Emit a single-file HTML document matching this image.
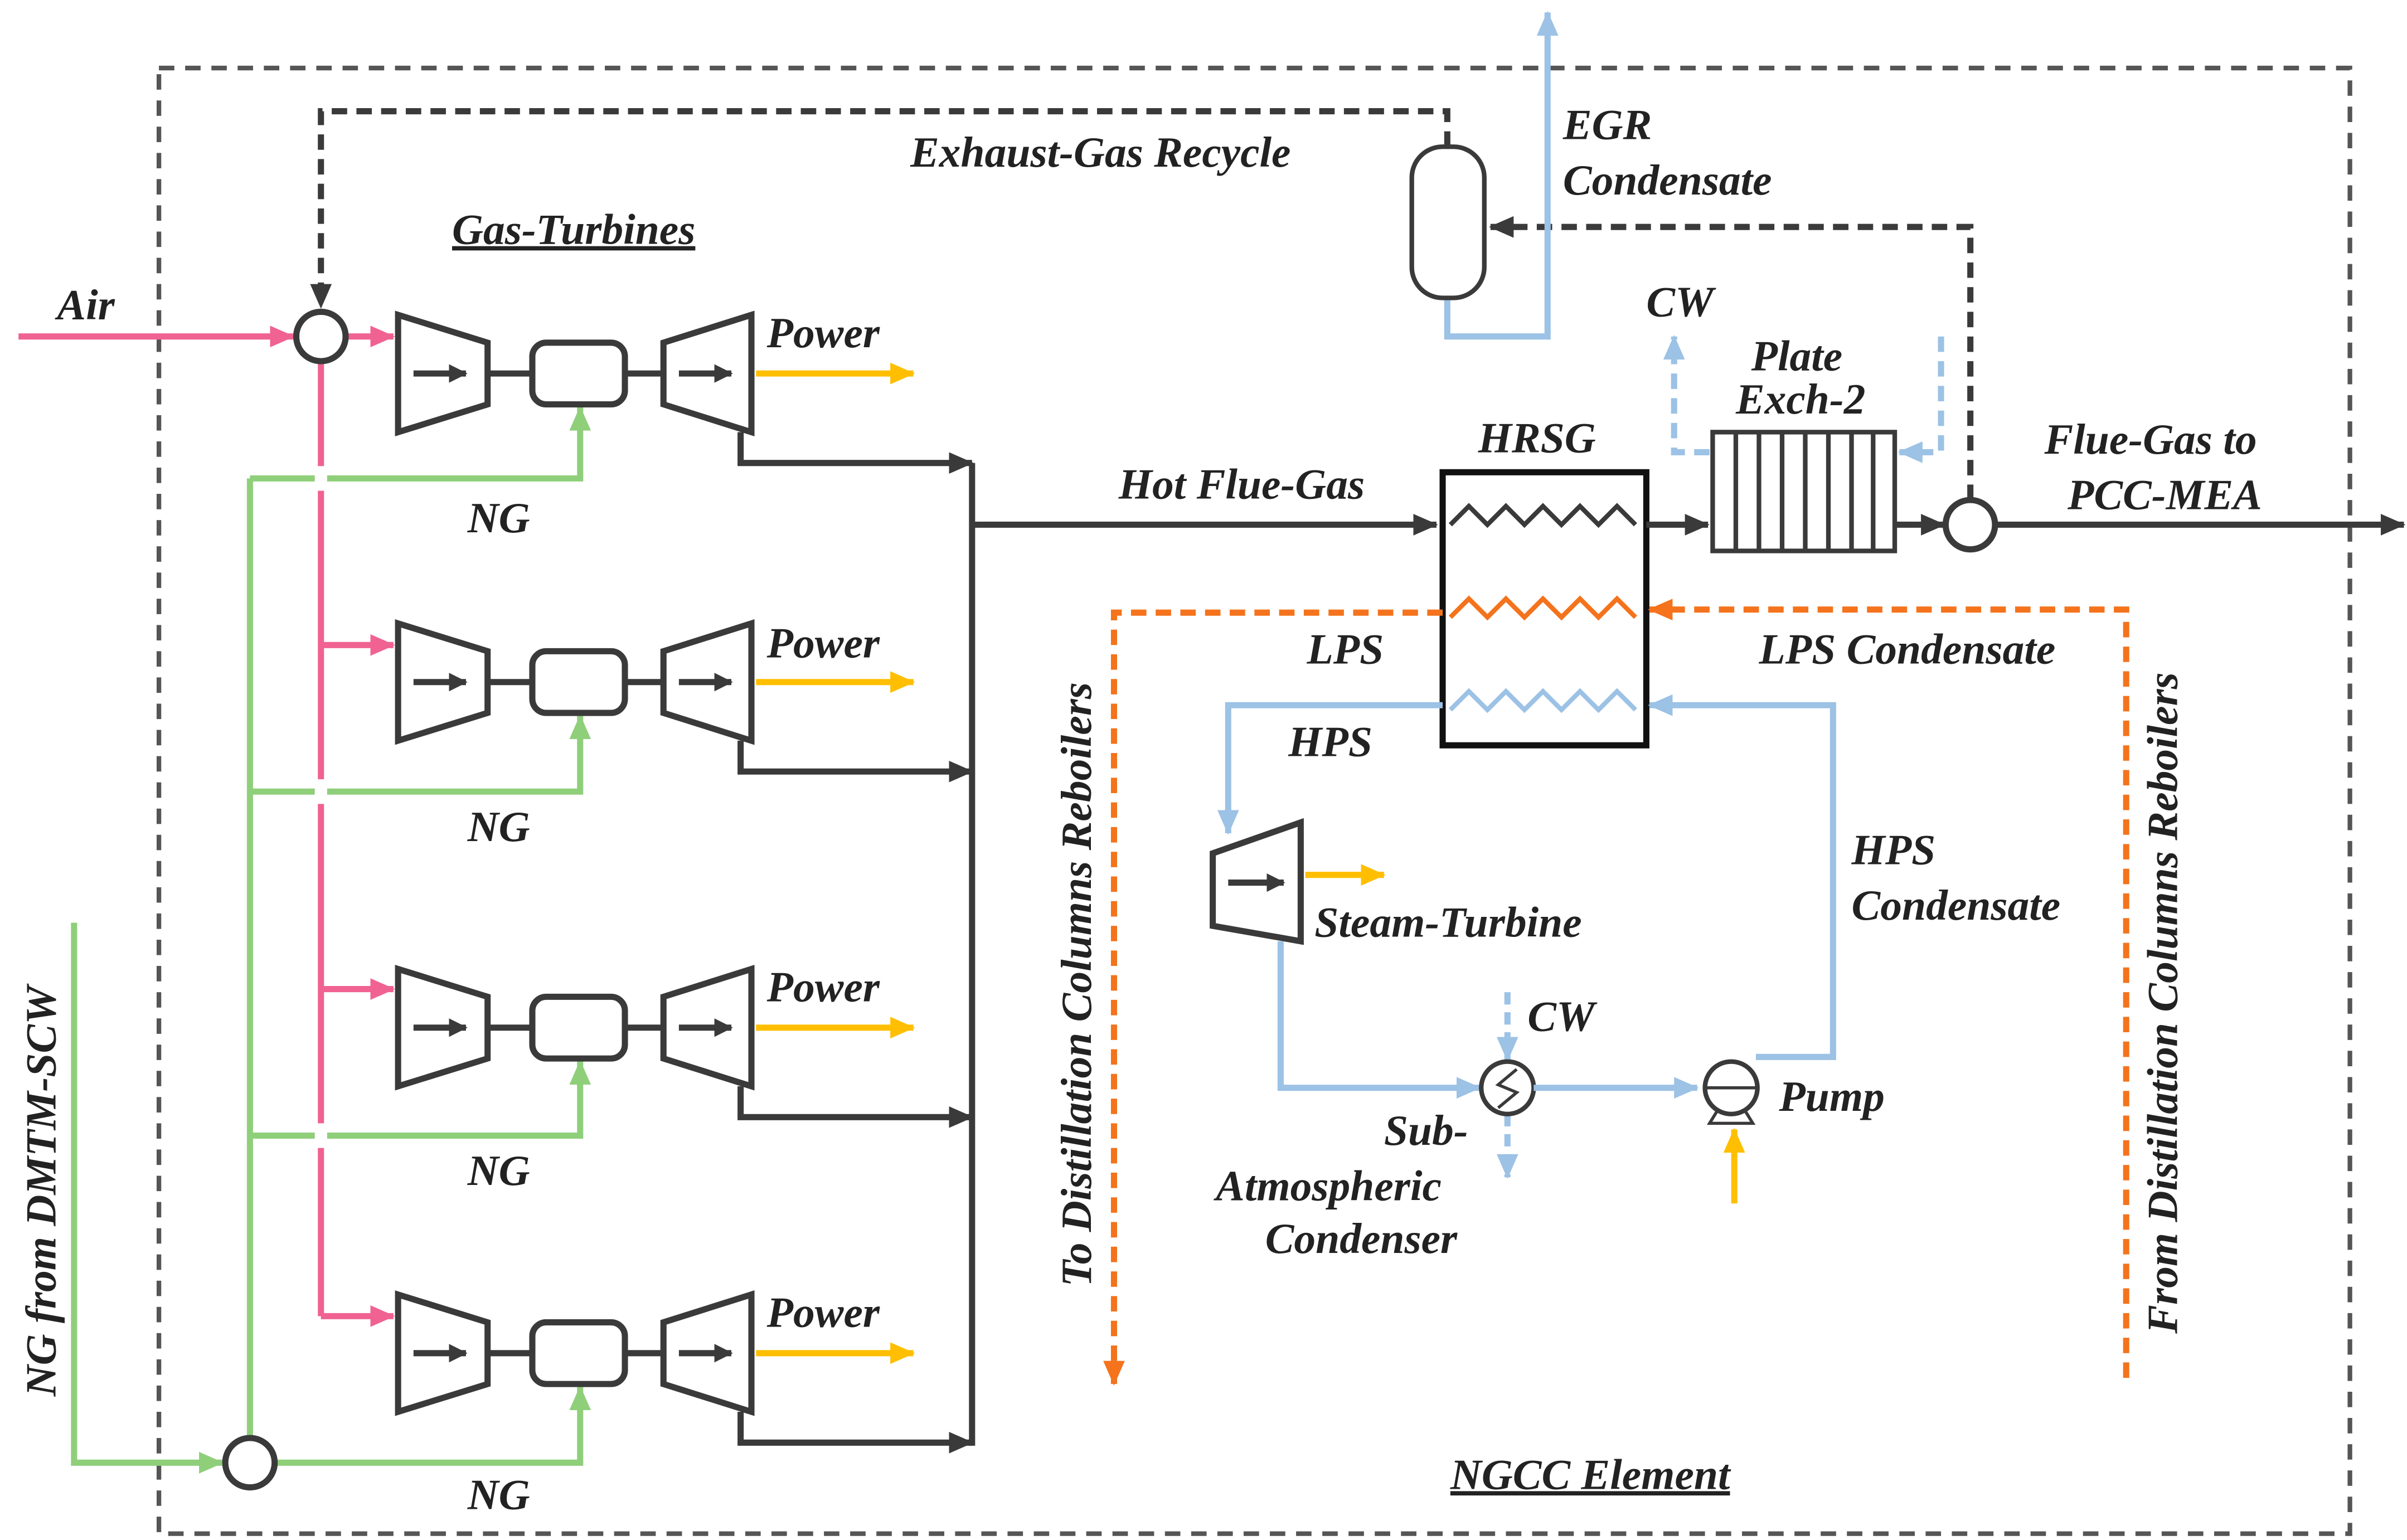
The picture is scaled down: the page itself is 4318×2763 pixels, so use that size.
<!DOCTYPE html>
<html><head><meta charset="utf-8"><style>
html,body{margin:0;padding:0;background:#fff;}
svg{display:block}
text{font-family:"Liberation Serif",serif;font-style:italic;font-weight:bold;font-size:28px;fill:#222;}
</style></head><body>
<svg width="4318" height="2763" viewBox="0 0 1560 998" xmlns="http://www.w3.org/2000/svg">
<defs>
<marker id="ad" markerWidth="12" markerHeight="12" refX="11" refY="6" orient="auto" markerUnits="userSpaceOnUse"><path d="M0,0 L12,6 L0,12z" fill="#3a3a3a"/></marker>
<marker id="ap" markerWidth="16" markerHeight="14" refX="15" refY="7" orient="auto" markerUnits="userSpaceOnUse"><path d="M0,0 L16,7 L0,14z" fill="#f06292"/></marker>
<marker id="ag" markerWidth="16" markerHeight="14" refX="15" refY="7" orient="auto" markerUnits="userSpaceOnUse"><path d="M0,0 L16,7 L0,14z" fill="#8fcf7a"/></marker>
<marker id="ay" markerWidth="16" markerHeight="14" refX="15" refY="7" orient="auto" markerUnits="userSpaceOnUse"><path d="M0,0 L16,7 L0,14z" fill="#ffbf00"/></marker>
<marker id="ab" markerWidth="16" markerHeight="14" refX="15" refY="7" orient="auto" markerUnits="userSpaceOnUse"><path d="M0,0 L16,7 L0,14z" fill="#9cc2e5"/></marker>
<marker id="ao" markerWidth="16" markerHeight="14" refX="15" refY="7" orient="auto" markerUnits="userSpaceOnUse"><path d="M0,0 L16,7 L0,14z" fill="#f4731c"/></marker>
<marker id="ak" markerWidth="16" markerHeight="14" refX="15" refY="7" orient="auto" markerUnits="userSpaceOnUse"><path d="M0,0 L16,7 L0,14z" fill="#3a3a3a"/></marker>
<g id="gt">
<path d="M258,-38 L316,-20 L316,20 L258,38 Z" fill="#fff" stroke="#3a3a3a" stroke-width="4"/>
<line x1="316" y1="0" x2="345" y2="0" stroke="#3a3a3a" stroke-width="4"/>
<rect x="345" y="-20" width="60" height="40" rx="9" fill="#fff" stroke="#3a3a3a" stroke-width="4"/>
<line x1="405" y1="0" x2="430" y2="0" stroke="#3a3a3a" stroke-width="4"/>
<path d="M430,-20 L487,-38 L487,38 L430,20 Z" fill="#fff" stroke="#3a3a3a" stroke-width="4"/>
<line x1="268" y1="0" x2="302" y2="0" stroke="#3a3a3a" stroke-width="4" marker-end="url(#ad)"/>
<line x1="440" y1="0" x2="474" y2="0" stroke="#3a3a3a" stroke-width="4" marker-end="url(#ad)"/>
<line x1="490" y1="0" x2="592" y2="0" stroke="#ffbf00" stroke-width="4" marker-end="url(#ay)"/>
<path d="M480,38 L480,58 L630,58" fill="none" stroke="#3a3a3a" stroke-width="4" marker-end="url(#ak)"/>
</g>
</defs>
<rect x="103" y="44" width="1420" height="950" fill="none" stroke="#555" stroke-width="3" stroke-dasharray="10,7"/>

<g stroke="#8fcf7a" stroke-width="4" fill="none">
<path d="M48,598 L48,948 L144,948" marker-end="url(#ag)"/>
<line x1="162" y1="932" x2="162" y2="310"/>
<path d="M162,310 L376,310 L376,264" marker-end="url(#ag)"/>
<path d="M162,513 L376,513 L376,464" marker-end="url(#ag)"/>
<path d="M162,736 L376,736 L376,688" marker-end="url(#ag)"/>
<path d="M178,948 L376,948 L376,899" marker-end="url(#ag)"/>
</g>
<circle cx="162" cy="948" r="16" fill="#fff" stroke="#3a3a3a" stroke-width="4"/>

<g stroke="#fff" stroke-width="8">
<line x1="208" y1="303" x2="208" y2="317"/>
<line x1="208" y1="506" x2="208" y2="520"/>
<line x1="208" y1="729" x2="208" y2="743"/>
</g>
<g stroke="#f06292" stroke-width="4" fill="none">
<line x1="12" y1="218" x2="190" y2="218" marker-end="url(#ap)"/>
<line x1="224" y1="218" x2="255" y2="218" marker-end="url(#ap)"/>
<line x1="208" y1="234" x2="208" y2="302"/>
<line x1="208" y1="318" x2="208" y2="505"/>
<line x1="208" y1="521" x2="208" y2="728"/>
<line x1="208" y1="744" x2="208" y2="853"/>
<line x1="208" y1="418" x2="255" y2="418" marker-end="url(#ap)"/>
<line x1="208" y1="641" x2="255" y2="641" marker-end="url(#ap)"/>
<line x1="208" y1="853" x2="255" y2="853" marker-end="url(#ap)"/>
</g>
<circle cx="208" cy="218" r="16" fill="#fff" stroke="#3a3a3a" stroke-width="4"/>

<use href="#gt" transform="translate(0,242)"/>
<use href="#gt" transform="translate(0,442)"/>
<use href="#gt" transform="translate(0,666)"/>
<use href="#gt" transform="translate(0,877)"/>
<line x1="630" y1="300" x2="630" y2="937" stroke="#3a3a3a" stroke-width="4"/>
<line x1="630" y1="340" x2="931" y2="340" stroke="#3a3a3a" stroke-width="4" marker-end="url(#ak)"/>

<path d="M938,95 L938,72 L208,72 L208,199" fill="none" stroke="#3a3a3a" stroke-width="4" stroke-dasharray="10,6" marker-end="url(#ak)"/>
<path d="M1277,324 L1277,147 L966,147" fill="none" stroke="#3a3a3a" stroke-width="4" stroke-dasharray="10,6" marker-end="url(#ak)"/>
<path d="M938,193 L938,218 L1003,218 L1003,8" fill="none" stroke="#9cc2e5" stroke-width="4" marker-end="url(#ab)"/>
<rect x="915" y="95" width="47" height="98" rx="20" fill="#fff" stroke="#3a3a3a" stroke-width="3"/>

<rect x="935" y="306" width="132" height="177" fill="#fff" stroke="#111" stroke-width="4"/>
<polyline points="940,340 952,328 964,340 976,328 988,340 1000,328 1012,340 1024,328 1036,340 1048,328 1060,340" fill="none" stroke="#3a3a3a" stroke-width="3"/>
<polyline points="940,400 952,388 964,400 976,388 988,400 1000,388 1012,400 1024,388 1036,400 1048,388 1060,400" fill="none" stroke="#f4731c" stroke-width="3"/>
<polyline points="940,460 952,448 964,460 976,448 988,460 1000,448 1012,460 1024,448 1036,460 1048,448 1060,460" fill="none" stroke="#9cc2e5" stroke-width="3"/>
<line x1="1067" y1="340" x2="1107" y2="340" stroke="#3a3a3a" stroke-width="4" marker-end="url(#ak)"/>
<rect x="1110" y="280" width="118" height="77" fill="#fff" stroke="#3a3a3a" stroke-width="3"/>
<g stroke="#3a3a3a" stroke-width="3">
<line x1="1125" y1="280" x2="1125" y2="357"/><line x1="1140" y1="280" x2="1140" y2="357"/><line x1="1155" y1="280" x2="1155" y2="357"/><line x1="1170" y1="280" x2="1170" y2="357"/><line x1="1185" y1="280" x2="1185" y2="357"/><line x1="1200" y1="280" x2="1200" y2="357"/><line x1="1214" y1="280" x2="1214" y2="357"/>
</g>
<path d="M1108,293 L1085,293 L1085,218" fill="none" stroke="#9cc2e5" stroke-width="4" stroke-dasharray="10,6" marker-end="url(#ab)"/>
<path d="M1258,218 L1258,293 L1231,293" fill="none" stroke="#9cc2e5" stroke-width="4" stroke-dasharray="10,6" marker-end="url(#ab)"/>
<line x1="1228" y1="340" x2="1260" y2="340" stroke="#3a3a3a" stroke-width="4" marker-end="url(#ak)"/>
<line x1="1293" y1="340" x2="1558" y2="340" stroke="#3a3a3a" stroke-width="4" marker-end="url(#ak)"/>
<circle cx="1277" cy="340" r="16" fill="#fff" stroke="#3a3a3a" stroke-width="4"/>

<path d="M1378,893 L1378,395 L1069,395" fill="none" stroke="#f4731c" stroke-width="4" stroke-dasharray="10,6" marker-end="url(#ao)"/>
<path d="M935,397 L722,397 L722,897" fill="none" stroke="#f4731c" stroke-width="4" stroke-dasharray="10,6" marker-end="url(#ao)"/>

<path d="M935,457 L796,457 L796,540" fill="none" stroke="#9cc2e5" stroke-width="4" marker-end="url(#ab)"/>
<path d="M786,553 L843,533 L843,610 L786,600 Z" fill="#fff" stroke="#3a3a3a" stroke-width="4"/>
<line x1="796" y1="572" x2="832" y2="572" stroke="#3a3a3a" stroke-width="4" marker-end="url(#ad)"/>
<line x1="846" y1="567" x2="897" y2="567" stroke="#ffbf00" stroke-width="4" marker-end="url(#ay)"/>
<path d="M830,610 L830,705 L959,705" fill="none" stroke="#9cc2e5" stroke-width="4" marker-end="url(#ab)"/>
<line x1="977" y1="643" x2="977" y2="687" stroke="#9cc2e5" stroke-width="4" stroke-dasharray="8,5" marker-end="url(#ab)"/>
<line x1="977" y1="722" x2="977" y2="763" stroke="#9cc2e5" stroke-width="4" stroke-dasharray="8,5" marker-end="url(#ab)"/>
<circle cx="977" cy="705" r="17" fill="#fff" stroke="#3a3a3a" stroke-width="3"/>
<polyline points="983,693 971,703 983,708 971,718" fill="none" stroke="#3a3a3a" stroke-width="2"/>
<line x1="994" y1="705" x2="1100" y2="705" stroke="#9cc2e5" stroke-width="4" marker-end="url(#ab)"/>
<path d="M1138,685 L1188,685 L1188,457 L1069,457" fill="none" stroke="#9cc2e5" stroke-width="4" marker-end="url(#ab)"/>
<path d="M1108,728 L1136,728 L1128,715 L1116,715 Z" fill="#fff" stroke="#3a3a3a" stroke-width="2"/>
<circle cx="1122" cy="705" r="17" fill="#fff" stroke="#3a3a3a" stroke-width="3"/>
<line x1="1105" y1="705" x2="1139" y2="705" stroke="#3a3a3a" stroke-width="2"/>
<line x1="1124" y1="780" x2="1124" y2="732" stroke="#ffbf00" stroke-width="4" marker-end="url(#ay)"/>

<text x="37" y="207">Air</text>
<text x="293" y="158" text-decoration="underline">Gas-Turbines</text>
<text x="590" y="108">Exhaust-Gas Recycle</text>
<text x="1013" y="90">EGR</text>
<text x="1013" y="126">Condensate</text>
<text x="1067" y="205">CW</text>
<text x="1135" y="240">Plate</text>
<text x="1125" y="268">Exch-2</text>
<text x="958" y="293">HRSG</text>
<text x="725" y="323">Hot Flue-Gas</text>
<text x="1325" y="294">Flue-Gas to</text>
<text x="1340" y="330">PCC-MEA</text>
<text x="497" y="225">Power</text>
<text x="497" y="426">Power</text>
<text x="497" y="649">Power</text>
<text x="497" y="860">Power</text>
<text x="303" y="345">NG</text>
<text x="303" y="545">NG</text>
<text x="303" y="768">NG</text>
<text x="303" y="978">NG</text>
<text x="847" y="430">LPS</text>
<text x="835" y="490">HPS</text>
<text x="1140" y="430">LPS Condensate</text>
<text x="1200" y="560">HPS</text>
<text x="1200" y="596">Condensate</text>
<text x="852" y="607">Steam-Turbine</text>
<text x="990" y="668">CW</text>
<text x="1153" y="720">Pump</text>
<text x="897" y="742">Sub-</text>
<text x="788" y="778">Atmospheric</text>
<text x="820" y="812">Condenser</text>
<text x="940" y="965" text-decoration="underline">NGCC Element</text>
<text transform="translate(36,772) rotate(-90)" text-anchor="middle">NG from DMTM-SCW</text>
<text transform="translate(707,638) rotate(-90)" text-anchor="middle">To Distillation Columns Reboilers</text>
<text transform="translate(1411,650) rotate(-90)" text-anchor="middle">From Distillation Columns Reboilers</text>
</svg>
</body></html>
